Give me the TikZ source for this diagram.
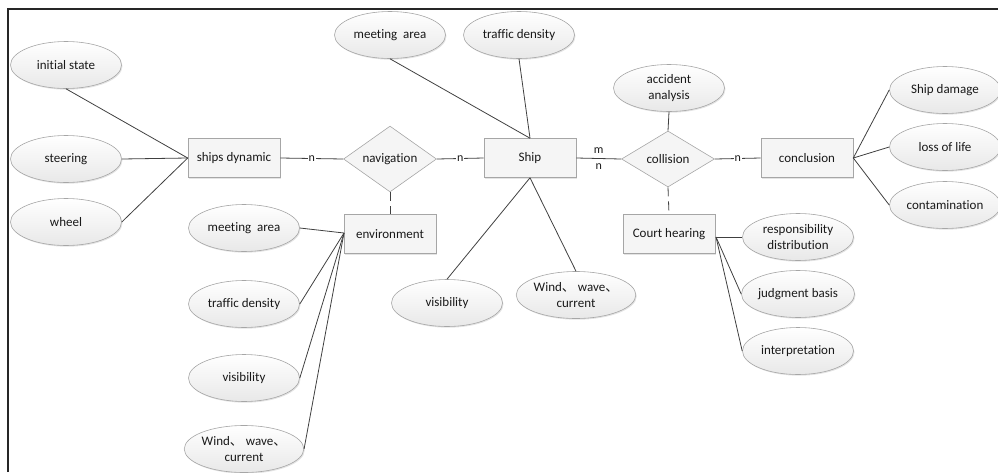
\documentclass[tikz,border=0pt]{standalone}
\usepackage{fontspec}
\setmainfont{Carlito}[Ligatures=NoCommon]
\newfontfamily\cjk{Noto Sans CJK SC}
\usetikzlibrary{shapes.geometric,shadows}
\newcommand{\dun}{{\cjk 、}}
\begin{document}
\begin{tikzpicture}[x=1pt,y=-1pt,
  every node/.style={font=\fontsize{13}{16.5}\selectfont, text=black!90},
  attr/.style={ellipse, draw=gray!70, top color=white, bottom color=gray!18, line width=0.6pt,
    minimum width=111pt, minimum height=47pt, inner sep=0pt, align=center,
    drop shadow={shadow xshift=1pt, shadow yshift=-1.2pt, fill=gray!35, opacity=0.6}},
  entity/.style={rectangle, draw=gray!70, fill=gray!8, line width=0.6pt,
    minimum width=92pt, minimum height=39pt, inner sep=0pt,
    drop shadow={shadow xshift=1pt, shadow yshift=-1.2pt, fill=gray!35, opacity=0.6}},
  relation/.style={diamond, draw=gray!70, fill=gray!8, line width=0.6pt,
    minimum width=93pt, minimum height=56pt, inner sep=0pt},
  link/.style={draw=black!75, line width=0.8pt},
  dlink/.style={link, dash pattern=on 9pt off 5pt},
  card/.style={fill=white, inner sep=1pt, font=\fontsize{12}{14}\selectfont}
]
\useasboundingbox (0,0) rectangle (998,472);
% outer frame
\draw[line width=2pt, black!85] (8,472) -- (8,9) -- (998,9);

% entities and relationships
\node[entity] (dyn) at (234,158) {ships dynamic};
\node[relation] (nav) at (390,159) {navigation};
\node[entity] (ship) at (530,158) {Ship};
\node[relation] (col) at (668,159) {collision};
\node[entity] (con) at (807,158) {conclusion};
\node[entity] (env) at (390,234) {environment};
\node[entity] (court) at (669,234) {Court hearing};

% attributes of ships dynamic
\node[attr] (init) at (66,65) {initial state};
\node[attr] (steer) at (66,159) {steering};
\node[attr] (wheel) at (66,222) {wheel};

% attributes of Ship
\node[attr] (meet1) at (390,35) {meeting\ \ area};
\node[attr] (traf1) at (519,35) {traffic density};
\node[attr] (vis1) at (447,303) {visibility};
\node[attr] (wind1) at (576,295) {Wind\dun\ wave\dun\\current};

% attributes of environment
\node[attr] (meet2) at (244,228) {meeting\ \ area};
\node[attr] (traf2) at (244,304) {traffic density};
\node[attr] (vis2) at (244,378) {visibility};
\node[attr] (wind2) at (244,449) {Wind\dun\ wave\dun\\current};

% attributes of collision / conclusion / court
\node[attr] (acc) at (669,88) {accident\\analysis};
\node[attr] (dmg) at (945,90) {Ship damage};
\node[attr] (loss) at (945,147) {loss of life};
\node[attr] (cont) at (945,205) {contamination};
\node[attr] (resp) at (798,237) {responsibility\\distribution};
\node[attr] (judg) at (798,294) {judgment basis};
\node[attr] (interp) at (798,351) {interpretation};

% helper points where attribute lines meet
\coordinate (dynL) at (dyn.west);
\coordinate (envL) at (344,233);
\coordinate (courtR) at (716,237);

% connectors
\draw[link] (init.south) -- (dynL);
\draw[link] (steer.east) -- (dynL);
\draw[link] (wheel.east) -- (dynL);

\draw[link] (dyn.east) -- node[card] {n} (nav.west);
\draw[link] (nav.east) -- node[card] {n} (ship.west);
\draw[link] (ship.east) -- (col.west);
\path (ship.east) -- node[card, fill=none, yshift=8pt] {m} node[card, fill=none, yshift=-8pt] {n} (col.west);
\draw[link] (col.east) -- node[card] {n} (con.west);

\draw[link] (meet1.south) -- (ship.north);
\draw[link] (traf1.south) -- (ship.north);
\draw[link] (ship.south) -- (vis1.north);
\draw[link] (ship.south) -- (wind1.north);

\draw[dlink] (nav.south) -- (env.north);
\draw[dlink] (col.south) -- (court.north);

\draw[link] (meet2.east) -- (envL);
\draw[link] (traf2.east) -- (envL);
\draw[link] (vis2.east) -- (envL);
\draw[link] (wind2.east) -- (envL);

\draw[link] (acc.south) -- (col.north);

\draw[link] (con.east) -- (dmg.west);
\draw[link] (con.east) -- (loss.west);
\draw[link] (con.east) -- (cont.west);

\draw[link] (courtR) -- (resp.west);
\draw[link] (courtR) -- (judg.west);
\draw[link] (courtR) -- (interp.west);
\end{tikzpicture}
\end{document}
